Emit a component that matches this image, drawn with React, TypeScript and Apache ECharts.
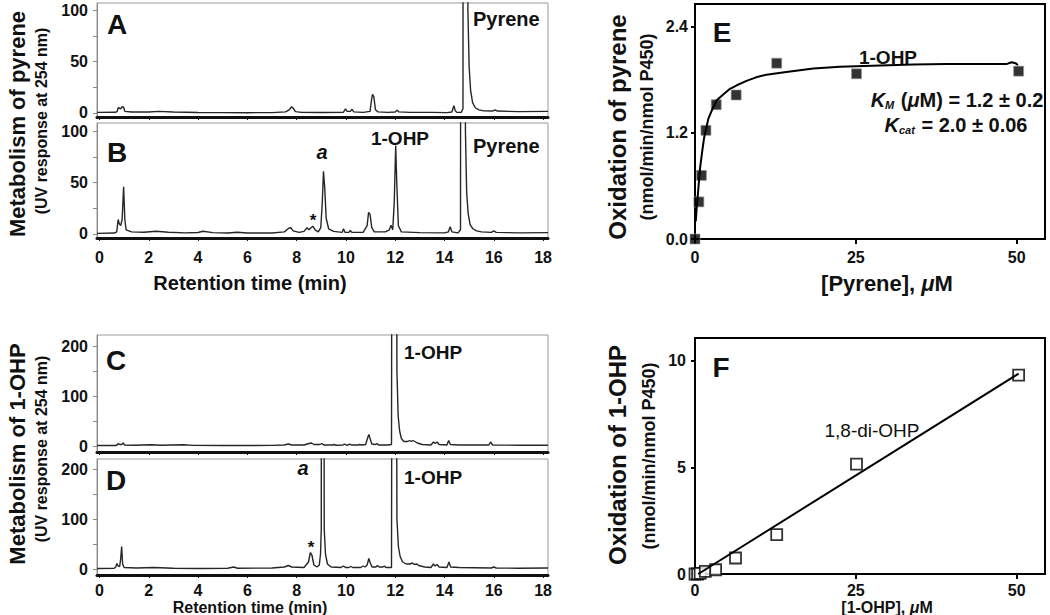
import React, { useEffect, useRef } from "react";
import * as echarts from "echarts";

const FONT = "'Liberation Sans', Arial, Helvetica, sans-serif";

// Chromatogram axes
const timeTicks = [0, 2, 4, 6, 8, 10, 12, 14, 16, 18];
const pyreneMajor = [0, 50, 100];
const pyreneMinor = [0, 25, 50, 75, 100];
const ohpMajor = [0, 100, 200];
const ohpMinor = [0, 50, 100, 150, 200];

// Panel A: pyrene, control  [time (min), UV response]
const traceA: [number, number][] = [
  [-0.1, 0.5], [0.65, 0.6], [0.72, 1.5], [0.76, 5], [0.82, 4.5], [0.86, 4], [0.92, 6], [0.98, 5.5], [1.03, 1.5],
  [1.3, 0.8], [2.0, 0.8], [2.4, 1.5], [3.0, 0.8], [4.0, 0.4], [5.0, 0.3], [6.0, 0.2], [7.0, 0.3], [7.55, 1],
  [7.7, 3], [7.8, 6], [7.88, 4], [7.95, 1.2], [8.2, 0.5], [9.0, 0.4], [9.9, 0.6], [9.98, 4], [10.05, 1.5],
  [10.18, 1.5], [10.25, 3.5], [10.32, 1], [10.7, 0.5], [10.98, 1.5], [11.04, 13], [11.08, 18], [11.13, 16],
  [11.2, 3], [11.3, 1], [11.7, 0.5], [12.0, 0.8], [12.08, 2.5], [12.15, 1], [12.6, 0.5], [13.5, 0.5], [14.1, 0.3],
  [14.3, 0.8], [14.38, 7], [14.44, 2], [14.5, 0.5], [14.68, 0.5], [14.75, 4], [14.83, 3000], [14.95, 100],
  [15.0, 45], [15.06, 22], [15.14, 10], [15.25, 5], [15.4, 3], [15.6, 2], [15.95, 1.8], [16.05, 3], [16.15, 1.8],
  [17.0, 1.2], [18.2, 1.5],
];

// Panel B: pyrene + enzyme
const traceB: [number, number][] = [
  [-0.1, 0.5], [0.6, 0.8], [0.7, 2], [0.76, 14], [0.8, 10], [0.86, 8], [0.92, 14], [0.98, 46], [1.03, 14],
  [1.08, 4], [1.3, 2], [1.8, 1.6], [2.3, 2.6], [2.8, 1.6], [3.5, 1], [4.0, 1.4], [4.2, 2.6], [4.6, 1.2],
  [5.2, 0.9], [5.6, 1.6], [6.0, 0.9], [7.0, 0.8], [7.5, 2], [7.68, 5.5], [7.76, 6], [7.86, 3], [8.1, 1.5],
  [8.3, 2.5], [8.42, 6], [8.5, 4], [8.58, 6], [8.66, 7.5], [8.75, 4], [8.88, 2], [8.98, 6], [9.04, 30],
  [9.09, 61], [9.14, 45], [9.2, 15], [9.3, 5], [9.5, 2.5], [9.85, 1.5], [9.9, 5], [9.96, 1.5], [10.12, 1.5],
  [10.18, 3.5], [10.24, 1.5], [10.7, 1.5], [10.86, 8], [10.92, 21], [10.98, 19], [11.05, 6], [11.15, 2],
  [11.6, 2], [11.76, 4], [11.83, 8.5], [11.9, 4], [11.96, 30], [12.02, 86], [12.07, 45], [12.13, 8],
  [12.25, 2], [13.0, 1.2], [14.0, 1], [14.16, 2], [14.23, 7], [14.3, 2], [14.55, 1], [14.65, 4],
  [14.73, 3000], [14.85, 100], [14.9, 40], [14.96, 20], [15.04, 9], [15.15, 5], [15.3, 3], [15.5, 2],
  [15.9, 1.5], [16.0, 3], [16.1, 1.5], [17.0, 1], [18.2, 1.2],
];

// Panel C: 1-OHP, control
const traceC: [number, number][] = [
  [-0.1, 1], [0.65, 1], [0.72, 2], [0.76, 5], [0.82, 3], [0.9, 3], [0.96, 6], [1.02, 2], [1.4, 1.5],
  [2.1, 2.5], [2.5, 1.5], [3.4, 2.5], [3.8, 1.2], [5.0, 1], [6.0, 1], [7.0, 1.2], [7.5, 2], [7.66, 4],
  [7.8, 2], [8.3, 2], [8.5, 5], [8.6, 6], [8.7, 3], [8.95, 3], [9.03, 5], [9.1, 2], [9.45, 2], [9.52, 3],
  [9.6, 1.5], [9.88, 2], [9.94, 4], [10.0, 2], [10.1, 2], [10.15, 4], [10.22, 2], [10.5, 2], [10.56, 3],
  [10.65, 2], [10.8, 3], [10.88, 16], [10.93, 23], [10.98, 15], [11.05, 4], [11.2, 3], [11.26, 5],
  [11.32, 2], [11.7, 2], [11.85, 3], [11.94, 3000], [12.07, 150], [12.12, 60], [12.18, 30], [12.25, 15],
  [12.35, 9], [12.5, 9], [12.58, 11], [12.65, 9], [12.72, 11], [12.8, 9], [12.9, 6], [13.1, 3],
  [13.45, 2], [13.55, 8], [13.62, 5], [13.7, 8], [13.78, 3], [14.1, 2], [14.17, 11], [14.24, 3],
  [14.6, 2], [15.0, 2], [15.8, 2], [15.87, 8], [15.95, 2], [17.0, 1.5], [18.2, 1.5],
];

// Panel D: 1-OHP + enzyme
const traceD: [number, number][] = [
  [-0.1, 1], [0.6, 1.5], [0.66, 4], [0.71, 11], [0.76, 6], [0.82, 5], [0.86, 20], [0.9, 45], [0.94, 10],
  [1.0, 3], [1.5, 2], [2.2, 3], [3.0, 1.5], [4.0, 1], [5.2, 1.5], [5.45, 4], [5.6, 1.5], [7.0, 2],
  [7.5, 4], [7.66, 7], [7.8, 4], [8.3, 3], [8.48, 14], [8.56, 33], [8.62, 28], [8.7, 8], [8.82, 4],
  [8.92, 8], [8.97, 30], [9.0, 80], [9.04, 3000], [9.12, 80], [9.17, 30], [9.25, 10], [9.4, 4],
  [9.8, 3], [9.9, 6], [9.98, 3], [10.12, 3], [10.2, 5], [10.28, 3], [10.6, 3], [10.7, 6], [10.78, 4],
  [10.86, 8], [10.93, 21], [10.99, 12], [11.06, 4], [11.22, 4], [11.28, 7], [11.35, 4], [11.5, 4],
  [11.56, 6], [11.62, 3], [11.85, 3], [11.94, 3000], [12.07, 100], [12.13, 45], [12.2, 25], [12.3, 14],
  [12.45, 10], [12.6, 10], [12.7, 12], [12.78, 9], [12.88, 10], [12.95, 7], [13.2, 4], [13.45, 3],
  [13.55, 10], [13.62, 6], [13.7, 9], [13.78, 4], [14.1, 3], [14.18, 14], [14.25, 4], [14.6, 3],
  [15.2, 2.5], [15.9, 2], [16.0, 4], [16.1, 2], [17.0, 1.5], [18.2, 2],
];

// Panel E: pyrene oxidation kinetics
const pyreneConc = [0, 0.6, 1.0, 1.7, 3.3, 6.4, 12.7, 25.1, 50.3];
const pyreneRate = [0, 0.42, 0.72, 1.23, 1.52, 1.63, 1.99, 1.87, 1.9];
const fitPyreneX = [0.12, 0.26, 0.5, 0.78, 1.1, 1.4, 2.07, 2.7, 3.37, 4.3, 5.44, 6.5, 8.0, 9.5, 11.1, 14.2, 18.4, 22.5, 28.8, 33.9, 39.1, 45.0, 48.4, 49.2, 49.8, 50.2];
const fitPyreneY = [0.2, 0.35, 0.55, 0.8, 0.98, 1.14, 1.36, 1.47, 1.57, 1.63, 1.7, 1.74, 1.79, 1.83, 1.86, 1.89, 1.93, 1.95, 1.965, 1.975, 1.98, 1.98, 1.98, 2.0, 1.99, 1.97];
const eXTicks = [0, 25, 50];
const eYTicks = [0, 1.2, 2.4];

// Panel F: 1-OHP oxidation
const ohpConc = [0, 0.4, 0.8, 1.6, 3.2, 6.3, 12.7, 25.1, 50.3];
const ohpRate = [0, 0, 0.03, 0.12, 0.2, 0.75, 1.85, 5.15, 9.33];
const fitOhpX = [0.5, 50.3];
const fitOhpY = [0, 9.4];
const fXTicks = [0, 25, 50];
const fYTicks = [0, 5, 10];

const INK = "#111";

function chromX(gridIndex: number, showLabels: boolean, margin: number) {
  return {
    type: "value", gridIndex, min: -0.1, max: 18.2,
    axisLine: { show: true, onZero: false, lineStyle: { color: INK, width: 3 } },
    axisTick: { show: true, customValues: timeTicks, length: 3, lineStyle: { color: INK, width: 1 } },
    axisLabel: { show: showLabels, customValues: timeTicks, margin, color: INK, fontFamily: FONT, fontWeight: "bold", fontSize: 16 },
    splitLine: { show: false },
  };
}

function chromY(gridIndex: number, min: number, max: number, major: number[], minor: number[]) {
  return {
    type: "value", gridIndex, min, max,
    axisLine: { show: true, onZero: false, lineStyle: { color: "#888", width: 1 } },
    axisTick: { show: true, customValues: minor, length: 4, lineStyle: { color: "#888", width: 1 } },
    axisLabel: { customValues: major, margin: 9, color: INK, fontFamily: FONT, fontWeight: "bold", fontSize: 16 },
    splitLine: { show: false },
  };
}

function kinX(gridIndex: number, ticks: number[], margin: number) {
  return {
    type: "value", gridIndex, min: 0, max: 54.4,
    axisLine: { show: true, onZero: false, lineStyle: { color: "#000", width: 2 } },
    axisTick: { show: true, customValues: ticks, length: 5, lineStyle: { color: "#000", width: 2 } },
    axisLabel: { customValues: ticks, margin, color: INK, fontFamily: FONT, fontWeight: "bold", fontSize: 16 },
    splitLine: { show: false },
  };
}

function kinY(gridIndex: number, max: number, ticks: number[], margin: number, digits: number) {
  return {
    type: "value", gridIndex, min: 0, max,
    axisLine: { show: true, onZero: false, lineStyle: { color: "#000", width: 2 } },
    axisTick: { show: true, customValues: ticks, length: 4, lineStyle: { color: "#000", width: 2 } },
    axisLabel: {
      customValues: ticks, margin, color: INK, fontFamily: FONT, fontWeight: "bold", fontSize: 16,
      formatter: (v: number) => v.toFixed(digits),
    },
    splitLine: { show: false },
  };
}

function txt(text: string, x: number, y: number, size: number, opts: any = {}) {
  const align = opts.align || "center";
  return {
    type: "text", x, y, rotation: opts.rot ? Math.PI / 2 : 0, silent: true,
    style: {
      text, fill: opts.fill || INK, fontFamily: FONT, fontSize: size,
      fontWeight: opts.weight || "bold", fontStyle: opts.italic ? "italic" : "normal",
      textAlign: align, textVerticalAlign: "middle", align, verticalAlign: "middle",
      rich: opts.rich,
    },
  };
}

const chromLine = (xi: number, data: [number, number][]) => ({
  type: "line", xAxisIndex: xi, yAxisIndex: xi, data, showSymbol: false, symbol: "none",
  clip: true, lineStyle: { color: "#262626", width: 1.4 }, silent: true,
});

const bold20 = { fontFamily: FONT, fontWeight: "bold", fontSize: 20, fontStyle: "normal" };
const ital20 = { fontFamily: FONT, fontWeight: "bold", fontSize: 20, fontStyle: "italic" };
const sub = { fontFamily: FONT, fontWeight: "bold", fontSize: 11, fontStyle: "italic", padding: [10, 1, 0, 0] };
const ax22 = { fontFamily: FONT, fontWeight: "bold", fontSize: 22, fontStyle: "normal" };
const ax22i = { fontFamily: FONT, fontWeight: "bold", fontSize: 22, fontStyle: "italic" };
const ax16 = { fontFamily: FONT, fontWeight: "bold", fontSize: 16, fontStyle: "normal" };
const ax16i = { fontFamily: FONT, fontWeight: "bold", fontSize: 16, fontStyle: "italic" };

export default function App() {
  const ref = useRef<HTMLDivElement>(null);
  useEffect(() => {
    if (!ref.current) return;
    const chart = echarts.init(ref.current, null, { renderer: "svg" });
    const chromGrid = { show: true, borderColor: "#999", borderWidth: 1, containLabel: false };
    const kinGrid = { show: true, borderColor: "#000", borderWidth: 2, containLabel: false };
    const option: any = {
      animation: false,
      backgroundColor: "#fff",
      grid: [
        { ...chromGrid, left: 97, top: 3, width: 451, height: 114 },
        { ...chromGrid, left: 97, top: 123, width: 451, height: 115 },
        { ...chromGrid, left: 97, top: 335, width: 451, height: 117 },
        { ...chromGrid, left: 97, top: 459, width: 451, height: 116 },
        { ...kinGrid, left: 695, top: 4, width: 350, height: 235 },
        { ...kinGrid, left: 695, top: 338, width: 350, height: 236 },
      ],
      xAxis: [
        chromX(0, false, 10), chromX(1, true, 11), chromX(2, false, 10), chromX(3, true, 7),
        kinX(4, eXTicks, 10), kinX(5, fXTicks, 8),
      ],
      yAxis: [
        chromY(0, -4, 107, pyreneMajor, pyreneMinor),
        chromY(1, -4, 108, pyreneMajor, pyreneMinor),
        chromY(2, -12, 222, ohpMajor, ohpMinor),
        chromY(3, -12, 220, ohpMajor, ohpMinor),
        kinY(4, 2.66, eYTicks, 7, 1),
        kinY(5, 11.07, fYTicks, 9, 0),
      ],
      series: [
        chromLine(0, traceA), chromLine(1, traceB), chromLine(2, traceC), chromLine(3, traceD),
        {
          type: "line", xAxisIndex: 4, yAxisIndex: 4, showSymbol: false, symbol: "none", silent: true,
          data: fitPyreneX.map((x, i) => [x, fitPyreneY[i]]),
          lineStyle: { color: "#000", width: 2 },
        },
        {
          type: "scatter", xAxisIndex: 4, yAxisIndex: 4, symbol: "rect", symbolSize: 10, silent: true, clip: false,
          data: pyreneConc.map((x, i) => [x, pyreneRate[i]]),
          itemStyle: { color: "#000", borderColor: "#999", borderWidth: 0.8 },
        },
        {
          type: "line", xAxisIndex: 5, yAxisIndex: 5, showSymbol: false, symbol: "none", silent: true,
          data: fitOhpX.map((x, i) => [x, fitOhpY[i]]),
          lineStyle: { color: "#000", width: 2 },
        },
        {
          type: "scatter", xAxisIndex: 5, yAxisIndex: 5, symbol: "rect", symbolSize: 11, silent: true, clip: false,
          data: ohpConc.map((x, i) => [x, ohpRate[i]]),
          itemStyle: { color: "#fff", borderColor: "#000", borderWidth: 1.8 },
        },
      ],
      graphic: [
        txt("Metabolism of pyrene", 17, 124, 22, { rot: true }),
        txt("(UV response at 254 nm)", 41, 121, 16, { rot: true }),
        txt("Metabolism of 1-OHP", 17, 454, 22, { rot: true }),
        txt("(UV response at 254 nm)", 41, 449, 16, { rot: true }),
        txt("Retention time (min)", 250, 283, 20),
        txt("Retention time (min)", 250, 607, 16),
        txt("A", 117, 24, 28),
        txt("B", 117, 152, 28),
        txt("C", 116, 360, 28),
        txt("D", 116, 480, 28),
        txt("Pyrene", 473, 19, 20, { align: "left" }),
        txt("Pyrene", 473, 146, 20, { align: "left" }),
        txt("1-OHP", 400, 138, 19),
        txt("a", 322, 152, 20, { italic: true }),
        txt("*", 313, 220, 17),
        txt("1-OHP", 404, 352, 19, { align: "left" }),
        txt("1-OHP", 404, 477, 19, { align: "left" }),
        txt("a", 303, 468, 20, { italic: true }),
        txt("*", 311, 547, 17),
        txt("Oxidation of pyrene", 617, 127, 24, { rot: true }),
        txt("(nmol/min/nmol P450)", 647, 127, 18, { rot: true }),
        txt("Oxidation of 1-OHP", 617, 455, 24, { rot: true }),
        txt("(nmol/min/nmol P450)", 649, 456, 18, { rot: true }),
        txt("{n|[Pyrene], }{i|μ}{n|M}", 887, 283, 22, { rich: { n: ax22, i: ax22i } }),
        txt("{n|[1-OHP], }{i|μ}{n|M}", 887, 607, 16, { rich: { n: ax16, i: ax16i } }),
        txt("E", 722, 32, 28),
        txt("F", 721, 367, 28),
        txt("1-OHP", 888, 57, 19),
        txt("{k|K}{s|M}{n| (}{k|μ}{n|M) = 1.2 ± 0.2}", 957, 100, 20, { rich: { k: ital20, s: sub, n: bold20 } }),
        txt("{k|K}{s|cat}{n| = 2.0 ± 0.06}", 956, 125, 20, { rich: { k: ital20, s: sub, n: bold20 } }),
        txt("1,8-di-OHP", 872, 430, 19, { weight: "normal" }),
      ],
    };
    chart.setOption(option);
    return () => chart.dispose();
  }, []);
  return (
    <div
      ref={ref}
      style={{ position: "fixed", left: 0, top: 0, width: 1050, height: 615, background: "#fff" }}
    />
  );
}
